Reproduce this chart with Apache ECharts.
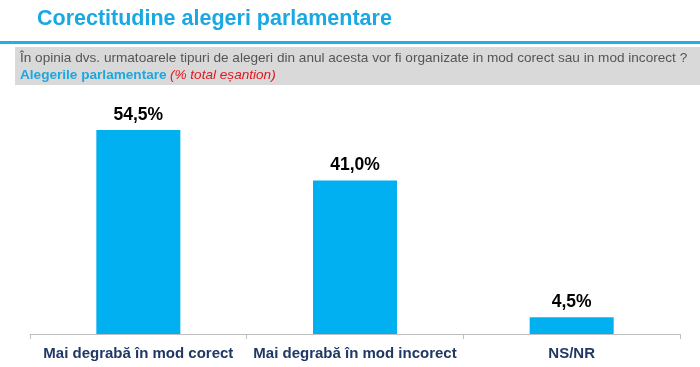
<!DOCTYPE html>
<html><head><meta charset="utf-8">
<script src="https://cdn.jsdelivr.net/npm/echarts@6/dist/echarts.min.js"></script>
<style>html,body{margin:0;padding:0;background:#fff}#c{width:700px;height:367px}</style>
</head><body><div id="c"></div>
<script>
var categories = ['Mai degrabă în mod corect', 'Mai degrabă în mod incorect', 'NS/NR'];
var values = [54.5, 41.0, 4.5];
var chart = echarts.init(document.getElementById('c'));
chart.setOption({
  animation: false,
  graphic: [
    {type:'text', left:37, top:8, style:{text:'Corectitudine alegeri parlamentare', font:'bold 21.5px "Liberation Sans", Arial', fill:'#1aa8e2'}},
    {type:'rect', shape:{x:0, y:41, width:700, height:3}, style:{fill:'#1fb0e6'}},
    {type:'rect', shape:{x:15, y:47, width:685, height:38}, style:{fill:'#d9d9d9'}},
    {type:'text', left:20, top:51, style:{text:'În opinia dvs. urmatoarele tipuri de alegeri din anul acesta vor fi organizate in mod corect sau in mod incorect ?', font:'13.6px "Liberation Sans", Arial', fill:'#555555'}},
    {type:'text', left:20, top:68, style:{rich:{a:{font:'bold 13.6px "Liberation Sans", Arial', fill:'#1aa8e2'}, b:{font:'italic 13.6px "Liberation Sans", Arial', fill:'#e3161c'}}, text:'{a|Alegerile parlamentare} {b|(% total eșantion)}'}}
  ],
  grid: {left:30, right:20, top:109.4, bottom:33, containLabel:false},
  xAxis: {
    type:'category', data:categories,
    axisLine:{lineStyle:{color:'#bfbfbf'}},
    axisTick:{show:true, length:5, interval:0, lineStyle:{color:'#bfbfbf'}},
    axisLabel:{interval:0, color:'#1f3864', fontWeight:'bold', fontSize:15, fontFamily:'"Liberation Sans", Arial', margin:12}
  },
  yAxis: {type:'value', min:0, max:60, show:false, splitLine:{show:false}},
  series: [{
    type:'bar', data:values, barWidth:84,
    itemStyle:{color:'#00b0f0'},
    label:{show:true, position:'top', distance:6, color:'#000', fontWeight:'bold', fontSize:17.5, fontFamily:'"Liberation Sans", Arial',
      formatter:function(p){return p.value.toFixed(1).replace('.', ',') + '%';}}
  }]
});
</script></body></html>
